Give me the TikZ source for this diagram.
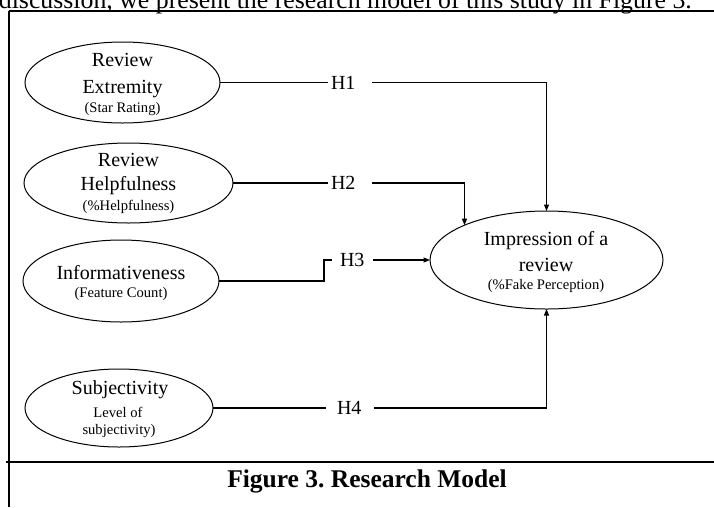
\documentclass[tikz,border=0pt]{standalone}
\usepackage{fontspec}
\setmainfont{Liberation Serif}
\usetikzlibrary{arrows.meta,shapes.geometric}
\frenchspacing
\begin{document}
\begin{tikzpicture}[x=1pt,y=-1pt,
  ell/.style={draw, ellipse, line width=1pt, inner sep=0pt, outer sep=0pt},
  big/.style={font=\fontsize{20}{24}\selectfont, inner sep=0pt, anchor=base},
  small/.style={font=\fontsize{14.6}{18}\selectfont, inner sep=0pt, anchor=base},
  hlab/.style={font=\fontsize{20}{24}\selectfont, inner sep=0pt, outer sep=0pt, anchor=west},
  conn/.style={line width=1.1pt},
  arr/.style={conn, -{Triangle[length=6.5pt,width=5pt]}},
  rulestyle/.style={line width=2pt}]
\fill[white] (0,0) rectangle (714,507);
\useasboundingbox (0,0) rectangle (714,507);
\clip (0,0) rectangle (714,507);

% running text above the frame (cut off, as in the source page)
\node[font=\fontsize{25.8}{30}\selectfont, inner sep=0pt, anchor=base east] (intro) at (692,8)
  {discussion, we present the research model of this study in Figure 3.};

% frame rules
\coordinate (tl) at (8.5,10.5);
\coordinate (tr) at (714,10.5);
\coordinate (bl) at (8.5,507);
\coordinate (ml) at (6,462);
\coordinate (mr) at (714,462);
\draw[rulestyle] (tl) -- (tr);
\draw[rulestyle] (tl) -- (bl);
\draw[rulestyle] (ml) -- (mr);

% ellipses
\node[ell, minimum width=195pt, minimum height=81pt] (e1) at (122.5,82.5) {};
\node[ell, minimum width=209pt, minimum height=80pt] (e2) at (128.5,183) {};
\node[ell, minimum width=196pt, minimum height=82pt] (info) at (121,281) {};
\node[ell, minimum width=188pt, minimum height=78pt] (subj) at (119,408) {};
\node[ell, minimum width=233pt, minimum height=98pt] (imp) at (546.5,260) {};

% ellipse texts
\node[big] (e1a) at (122.5,66.5) {Review};
\node[big] (e1b) at (122.5,93.5) {Extremity};
\node[small] (e1c) at (122.5,112) {(Star Rating)};

\node[big] (e2a) at (128.5,166.5) {Review};
\node[big] (e2b) at (128.5,190.5) {Helpfulness};
\node[small] (e2c) at (128.5,210.5) {(\%Helpfulness)};

\node[big] (infa) at (121,279.5) {Informativeness};
\node[small] (infb) at (121,297) {(Feature Count)};

\node[big] (suba) at (120,394.5) {Subjectivity};
\node[small] (subb) at (118,417) {Level of};
\node[small] (subc) at (119,434.5) {subjectivity)};

\node[big] (impa) at (546,245) {Impression of a};
\node[big] (impb) at (546,271.5) {review};
\node[small] (impc) at (546,289) {(\%Fake Perception)};

% hypothesis labels (box spans the gap in the connector)
\node[hlab] (h1) at (328,82.5) {\makebox[44pt][l]{\hspace{3pt}H1}};
\node[hlab] (h2) at (328,183) {\makebox[44pt][l]{\hspace{3pt}H2}};
\node[hlab] (h3) at (332,260) {\makebox[41pt][l]{\hspace{8pt}H3}};
\node[hlab] (h4) at (326,408) {\makebox[48pt][l]{\hspace{11pt}H4}};

% connectors
\coordinate (s3) at (324,281);
\draw[conn] (e1.east) -- (h1.west);
\draw[arr] (h1.east) -| (imp.north);
\draw[conn] (e2.east) -- (h2.west);
\draw[arr] (h2.east) -| (imp.157.2);
\draw[conn] (info.east) -- (s3) |- (h3.west);
\draw[arr] (h3.east) -- (imp.west);
\draw[conn] (subj.east) -- (h4.west);
\draw[arr] (h4.east) -| (imp.south);

% caption
\node[font=\fontsize{25.5}{30}\selectfont\bfseries, inner sep=0pt, anchor=base] (cap) at (367,487)
  {Figure 3. Research Model};
\end{tikzpicture}
\end{document}
